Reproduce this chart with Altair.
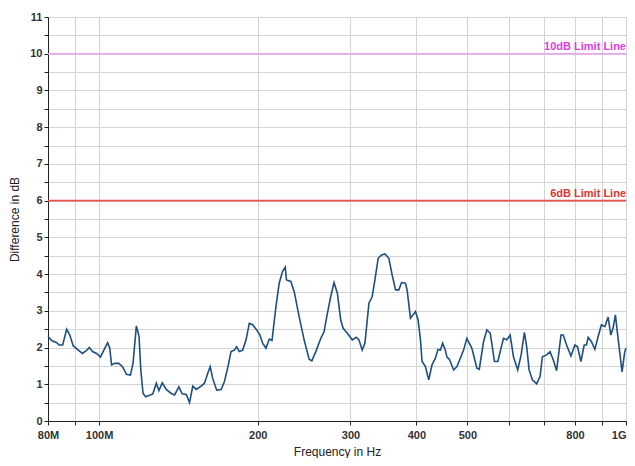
import altair as alt
import pandas as pd

freq_mhz = [80, 81.3, 83.1, 84.0, 85.3, 86.8, 88.0, 89.3, 91.3, 93.0, 94.7, 95.8, 97.2, 98.9,
            100.6, 102.5, 103.8, 104.8, 105.6, 107.1, 109.0, 110.8, 112.7, 114.7, 116.0, 117.7,
            119.1, 120.0, 121.2, 122.6, 125.1, 126.5, 128.4, 129.9, 131.8, 134.1, 137.1, 139.1,
            141.7, 143.8, 146.4, 148.5, 150.6, 152.9, 156.2, 158.5, 160.8, 162.5, 164.3, 167.2,
            170.5, 172.9, 175.4, 178.0, 180.6, 182.4, 184.6, 187.3, 190.1, 192.8, 195.6, 199.1,
            202.0, 204.3, 207.4, 210.4, 212.9, 216.6, 219.7, 222.9, 225.6, 226.8, 231.2, 234.6,
            239.7, 245.0, 250.4, 253.4, 257.8, 263.5, 267.3, 271.2, 275.2, 279.2, 283.3, 287.5,
            290.4, 295.9, 302.4, 307.7, 311.3, 315.8, 319.6, 325.2, 329.9, 333.8, 338.6, 343.7,
            348.7, 354.8, 359.9, 365.3, 370.6, 375.0, 381.5, 384.2, 389.9, 394.4, 398.5, 403.1,
            407.3, 410.2, 416.3, 422.3, 428.4, 434.8, 439.7, 444.4, 448.8, 454.1, 457.3, 462.1,
            470.9, 477.7, 484.8, 491.8, 498.9, 509.9, 521.2, 526.7, 536.6, 544.4, 552.5, 562.9,
            571.1, 585.4, 593.9, 602.8, 611.5, 623.1, 632.4, 641.5, 648.0, 654.8, 664.3, 676.8,
            686.9, 693.9, 707.0, 717.5, 727.9, 738.4, 752.7, 760.3, 771.3, 786.2, 800.0, 809.1,
            821.2, 833.1, 841.4, 847.7, 860.0, 872.8, 885.4, 898.2, 911.7, 924.9, 935.8, 945.2,
            954.7, 966.0, 983.0, 994.6, 1000.0]

diff_db = [2.30, 2.19, 2.13, 2.07, 2.07, 2.50, 2.34, 2.05, 1.93, 1.84, 1.92, 2.00, 1.89, 1.84,
           1.74, 1.98, 2.13, 1.98, 1.53, 1.57, 1.57, 1.48, 1.27, 1.25, 1.57, 2.59,
           2.30, 1.39, 0.75, 0.66, 0.71, 0.74, 1.03, 0.83, 1.04, 0.86, 0.75, 0.71,
           0.93, 0.74, 0.72, 0.50, 0.95, 0.86, 0.95, 1.03, 1.30, 1.48, 1.16, 0.84,
           0.86, 1.07, 1.44, 1.89, 1.93, 2.02, 1.89, 1.93, 2.21, 2.66, 2.62, 2.48,
           2.34, 2.12, 1.98, 2.23, 2.19, 3.11, 3.75, 4.07, 4.19, 3.84, 3.80, 3.52,
           2.84, 2.21, 1.68, 1.64, 1.89, 2.25, 2.43, 2.93, 3.39, 3.77, 3.48, 2.75,
           2.53, 2.39, 2.21, 2.28, 2.21, 1.93, 2.12, 3.21, 3.39, 3.84, 4.43, 4.52,
           4.55, 4.43, 3.98, 3.57, 3.57, 3.77, 3.75, 3.57, 2.80, 2.89, 2.98, 2.75,
           2.21, 1.62, 1.48, 1.12, 1.53, 1.71, 1.95, 1.93, 2.12, 1.93, 1.74, 1.68,
           1.39, 1.48, 1.71, 1.93, 2.25, 1.98, 1.44, 1.41, 2.16, 2.48, 2.39, 1.62,
           1.62, 2.25, 2.21, 2.34, 1.75, 1.39, 1.80, 2.41, 2.02, 1.39, 1.12, 1.01,
           1.21, 1.75, 1.80, 1.89, 1.66, 1.37, 2.34, 2.34, 2.07, 1.77, 2.07, 2.02,
           1.62, 2.07, 2.07, 2.28, 2.16, 1.95, 2.30, 2.62, 2.57, 2.83, 2.34, 2.53,
           2.89, 2.25, 1.34, 1.89, 1.98]

limit_values = [10, 6]
limit_labels = ["10dB Limit Line", "6dB Limit Line"]
limit_colors = ["#eca2f4", "#e8504f"]
limit_text_colors = ["#e23be6", "#e03434"]

x_ticks = [80, 90, 100, 200, 300, 400, 500, 600, 700, 800, 900, 1000]
x_tick_text = {80: "80M", 100: "100M", 200: "200", 300: "300", 400: "400",
               500: "500", 800: "800", 1000: "1G"}
y_ticks = [v / 2 for v in range(0, 23)]

df = pd.DataFrame({"f": freq_mhz, "d": diff_db})
lim = pd.DataFrame({"y": limit_values, "label": limit_labels,
                    "c": limit_colors, "tc": limit_text_colors,
                    "x1": [80, 80], "x2": [1000, 1000]})

label_expr = " : ".join(
    [f"datum.value == {k} ? '{v}'" for k, v in x_tick_text.items()]) + " : ''"

xscale = alt.Scale(type="log", domain=[80, 1000], nice=False)
yscale = alt.Scale(domain=[0, 11], nice=False, zero=False)

xaxis = alt.Axis(values=x_ticks, labelExpr=label_expr, title="Frequency in Hz",
                 grid=True, gridColor="#d4d4d4", gridWidth=1,
                 domainColor="#222", tickColor="#222", tickSize=4,
                 labelFont="Liberation Sans", labelFontSize=11, labelColor="#333",
                 labelFontWeight="bold", labelPadding=4,
                 labelAlign={"condition": {"test": "datum.value == 1000", "value": "right"},
                             "value": "center"},
                 labelOverlap=False,
                 titleFont="Liberation Sans", titleFontSize=12,
                 titleFontWeight="normal", titleColor="#222", titlePadding=6,
                 labelFlush=False)
yaxis = alt.Axis(values=y_ticks,
                 labelExpr="datum.value % 1 == 0 ? format(datum.value, 'd') : ''",
                 title="Difference in dB", grid=True, gridColor="#d4d4d4", gridWidth=1,
                 domainColor="#222", tickColor="#222", tickSize=4,
                 labelFont="Liberation Sans", labelFontSize=11, labelColor="#333",
                 labelFontWeight="bold", labelPadding=2, labelOverlap=False,
                 titleFont="Liberation Sans", titleFontSize=12, titleFontWeight="normal",
                 titleColor="#222", titlePadding=8)

base_line = alt.Chart(df).mark_line(color="#1d4f80", strokeWidth=1.6).encode(
    x=alt.X("f:Q", scale=xscale, axis=xaxis),
    y=alt.Y("d:Q", scale=yscale, axis=yaxis),
)

rules = alt.Chart(lim).mark_rule(strokeWidth=1.6).encode(
    x=alt.X("x1:Q", scale=xscale, axis=xaxis),
    x2="x2:Q",
    y=alt.Y("y:Q", scale=yscale, axis=yaxis),
    color=alt.Color("c:N", scale=None),
)

texts = alt.Chart(lim).mark_text(align="right", baseline="bottom", dy=-2,
                                 font="Liberation Sans", fontSize=11,
                                 fontWeight="bold").encode(
    x=alt.X("x2:Q", scale=xscale, axis=xaxis),
    y=alt.Y("y:Q", scale=yscale, axis=yaxis),
    text="label:N",
    color=alt.Color("tc:N", scale=None),
)

chart = alt.layer(base_line, rules, texts).properties(
    width=578, height=404,
    autosize=alt.AutoSizeParams(type="none"),
    padding={"left": 40, "top": 9, "right": 1, "bottom": 37},
).configure_view(stroke=None)

chart.save("out.html", embed_options={"renderer": "svg", "actions": False})
